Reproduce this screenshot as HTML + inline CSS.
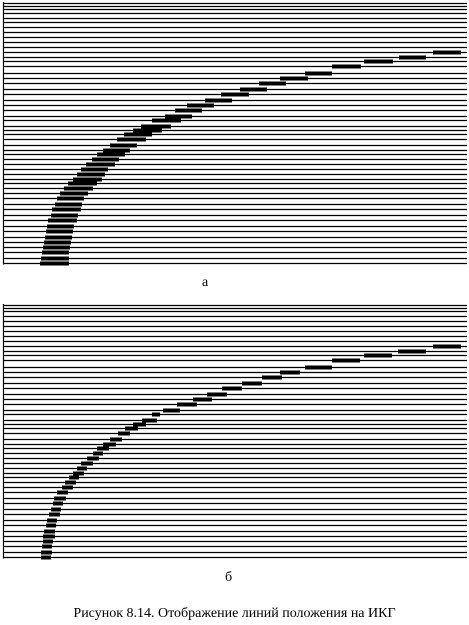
<!DOCTYPE html>
<html><head><meta charset="utf-8"><style>
body{margin:0;background:#fff;width:469px;height:625px;overflow:hidden;font-family:"Liberation Serif",serif}
svg{position:absolute;left:0;top:0}
.lbl{position:absolute;font-size:14px;color:#000}
</style></head><body>
<svg id="c" width="469" height="625"></svg>
<div class="lbl" style="left:202px;top:275px">а</div>
<div class="lbl" style="left:225px;top:570px">б</div>
<div class="lbl" style="left:0;width:469px;text-align:center;top:606px">Рисунок 8.14. Отображение линий положения на ИКГ</div>
<script>
// Dash extents per grid line, ordered from bottom line upward
const aX0=[40,41,42,43,44,45,46,47,48,51,52,55,57,60,64,68,73,77,81,86,92,97,103,110,117,124,133,141,152,165,175,187,205,221,240,259,280,305,332,364,399,433];
const aX1=[69,69,69,70,71,72,73,74,77,78,81,82,84,88,93,97,102,105,108,115,119,125,130,137,146,152,162,171,181,192,202,214,232,249,267,286,308,332,361,393,426,461];
const bX0=[41,41,42,43,43,44,46,47,49,51,53,54,57,62,65,69,73,77,81,87,93,97,103,110,118,125,133,142,152,163,177,193,207,222,242,262,280,305,332,364,398,433];
const bX1=[51,52,52,53,55,55,56,57,60,61,63,66,68,73,76,79,84,87,93,99,103,109,116,122,130,138,146,157,160,180,197,212,227,242,262,282,300,332,360,392,426,461];
const gridA=[263,258,252,247,242,237,231,226,220,215,209,204,198,193,188,183,179,174,169,164,159,154,150,145,139,134,130,126,120,116,110,105,99.5,94,89,83,78,72.7,66,61,57,52];
const svg=document.getElementById('c');
const NS='http://www.w3.org/2000/svg';
function line(x1,y1,x2,y2,w,name){const l=document.createElementNS(NS,'line');
l.setAttribute('x1',x1);l.setAttribute('y1',y1);l.setAttribute('x2',x2);l.setAttribute('y2',y2);
l.setAttribute('stroke','#000');l.setAttribute('stroke-width',w);


svg.appendChild(l);}
function panel(off,top,extraY,x0,x1,p){
  const ys=gridA.map(y=>Math.round(y+off)+0.5);
  line(3.5,top,3.5,ys[0]+1,1.2,'panel-'+p+'-left-border');
  const extra=extraY.map(y=>y+0.5);
  extra.concat(ys).forEach(y=>line(3,y,467,y,1.2,'panel-'+p+'-grid-line'));
  x0.forEach((v,i)=>line(v,ys[i],x1[i],ys[i],4,'panel-'+p+'-position-dash'));
}
panel(0,2,[47,42,37,32,27,22,18,13,9,6,3],aX0,aX1,'a');
panel(294,304,[341,336,331,326,321,316,311,308,305],bX0,bX1,'b');
</script>
</body></html>
